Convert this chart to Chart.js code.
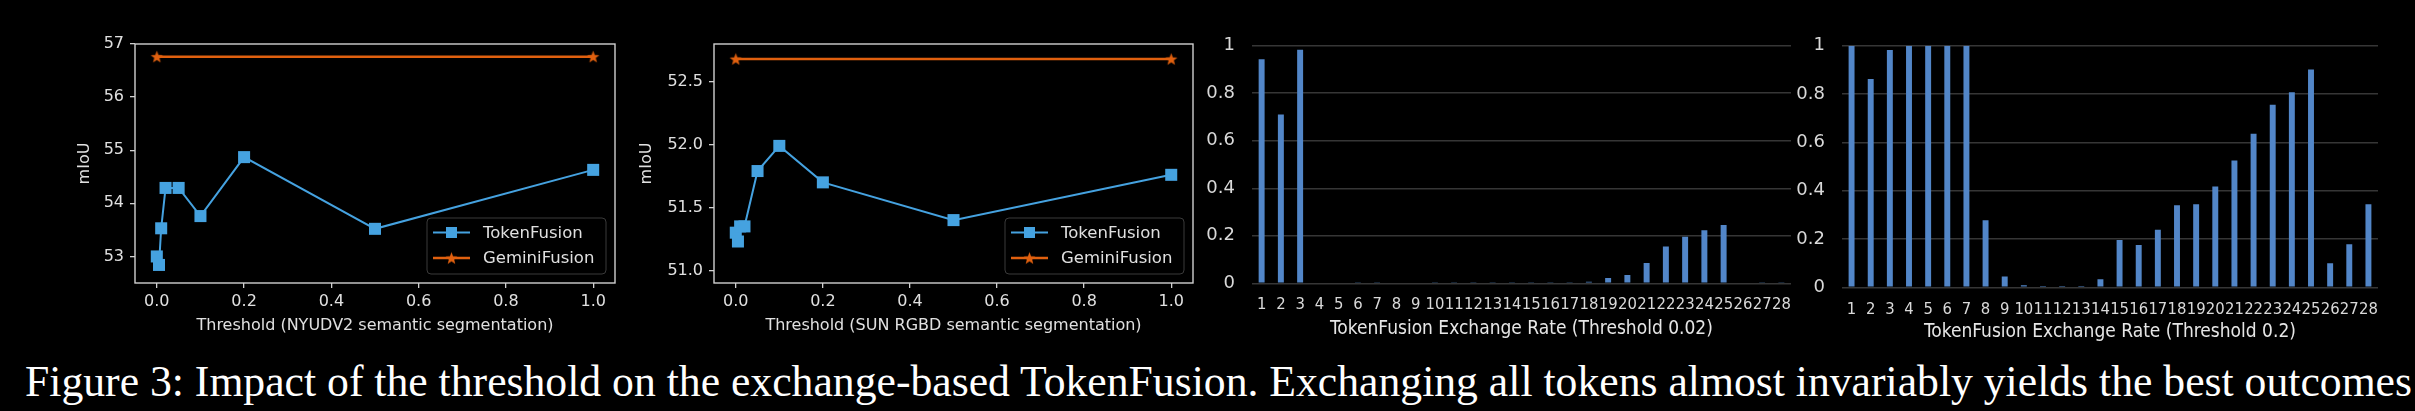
<!DOCTYPE html>
<html>
<head>
<meta charset="utf-8">
<script src="https://cdn.jsdelivr.net/npm/chart.js@4.4.1/dist/chart.umd.min.js"></script>
<style>
  html, body { margin: 0; padding: 0; background: #000; }
  body { width: 2415px; height: 411px; position: relative; overflow: hidden; }
  canvas { position: absolute; top: 0; }
  #caption {
    position: absolute; left: 25px; top: 359px;
    font-family: 'Liberation Serif', 'Times New Roman', serif;
    font-size: 45px; line-height: 45px; color: #fff;
    white-space: nowrap; transform-origin: 0 0;
  }
</style>
</head>
<body>
<canvas id="nyu" style="left:60px" width="570" height="345"></canvas>
<canvas id="sun" style="left:630px" width="575" height="345"></canvas>
<canvas id="rate02" style="left:1195px" width="610" height="345"></canvas>
<canvas id="rate2" style="left:1780px" width="635" height="345"></canvas>
<div id="caption">Figure 3: Impact of the threshold on the exchange-based TokenFusion. Exchanging all tokens almost invariably yields the best outcomes</div>

<script>
// threshold sweeps
const thresholds = [0, 0.005, 0.01, 0.02, 0.05, 0.1, 0.2, 0.5, 1.0];
const geminiX = [0, 1.0];
const nyuTokenFusion = [53.0, 52.84, 53.53, 54.29, 54.29, 53.76, 54.87, 53.52, 54.63];
const nyuGeminiFusion = [56.76, 56.76];
const sunTokenFusion = [51.30, 51.23, 51.35, 51.35, 51.79, 51.99, 51.70, 51.40, 51.76];
const sunGeminiFusion = [52.68, 52.68];
const xTicks = [0, 0.2, 0.4, 0.6, 0.8, 1.0];
const nyuYTicks = [53, 54, 55, 56, 57];
const sunYTicks = [51.0, 51.5, 52.0, 52.5];

// exchange rate per layer
const layers = ['1','2','3','4','5','6','7','8','9','10','11','12','13','14','15','16','17','18','19','20','21','22','23','24','25','26','27','28'];
const rate002 = [0.943, 0.710, 0.983, 0, 0, 0.002, 0.002, 0, 0, 0.002, 0.002, 0.002, 0.002, 0.002, 0.002, 0.002, 0.002,
                 0.007, 0.022, 0.035, 0.085, 0.155, 0.196, 0.223, 0.245, 0, 0.002, 0.002];
const rate02 = [1.0, 0.862, 0.982, 1.0, 1.0, 1.0, 1.0, 0.278, 0.045, 0.008, 0.001, 0.001, 0.005, 0.033,
                0.196, 0.175, 0.238, 0.340, 0.344, 0.417, 0.525, 0.636, 0.756, 0.807, 0.901, 0.100, 0.178, 0.344];
const rateTicks = [0, 0.2, 0.4, 0.6, 0.8, 1];
const rateTickLabels = ['0', '0.2', '0.4', '0.6', '0.8', '1'];

const BLUE = '#45a2e0', ORANGE = '#e0600f', TXT = '#e0e0e0', SPINE = '#d0d0d0';
const mplFont = { family: "'DejaVu Sans'", size: 16 };
const barFont = "'DejaVu Sans Condensed', 'DejaVu Sans'";

function makeStar(r, color) {
  const c = document.createElement('canvas');
  c.width = c.height = Math.ceil(r * 2 + 2);
  const g = c.getContext('2d');
  const m = c.width / 2;
  g.beginPath();
  for (let i = 0; i < 10; i++) {
    const a = -Math.PI / 2 + i * Math.PI / 5;
    const rr = i % 2 ? r * 0.42 : r;
    g.lineTo(m + rr * Math.cos(a), m + 0.5 + rr * Math.sin(a));
  }
  g.closePath();
  g.fillStyle = color;
  g.fill();
  return c;
}
const star = makeStar(6.5, ORANGE);

// axes frame + legend box like matplotlib
const mplFrame = {
  id: 'mplFrame',
  afterDraw(chart) {
    const ctx = chart.ctx, a = chart.chartArea;
    ctx.save();
    ctx.strokeStyle = SPINE;
    ctx.lineWidth = 1.4;
    ctx.strokeRect(a.left, a.top, a.right - a.left, a.bottom - a.top);

    const w = 179, h = 56;
    const x = a.right - 9 - w, y = a.bottom - 9 - h;
    ctx.beginPath();
    ctx.roundRect(x, y, w, h, 4);
    ctx.fillStyle = '#000';
    ctx.fill();
    ctx.strokeStyle = '#3a3a3a';
    ctx.lineWidth = 1;
    ctx.stroke();

    chart.data.datasets.forEach((ds, i) => {
      const cy = y + 14.5 + i * 25.6;
      ctx.strokeStyle = ds.borderColor;
      ctx.lineWidth = ds.borderWidth;
      ctx.beginPath();
      ctx.moveTo(x + 6, cy);
      ctx.lineTo(x + 43, cy);
      ctx.stroke();
      if (ds.pointStyle === 'rect') {
        ctx.fillStyle = ds.backgroundColor;
        ctx.fillRect(x + 24.5 - 5.5, cy - 5.5, 11, 11);
      } else {
        ctx.drawImage(ds.pointStyle, x + 24.5 - ds.pointStyle.width / 2, cy - ds.pointStyle.height / 2);
      }
      ctx.fillStyle = TXT;
      ctx.font = "16.5px 'DejaVu Sans'";
      ctx.textBaseline = 'middle';
      ctx.fillText(ds.label, x + 56, cy + 1);
    });
    ctx.restore();
  }
};

function thresholdChart(id, tokenVals, geminiVals, yMin, yMax, yTicks, yDec, yAxisW, titleTop, xTitle, padRight) {
  new Chart(document.getElementById(id), {
    type: 'line',
    data: {
      datasets: [
        {
          label: 'TokenFusion',
          data: thresholds.map((t, i) => ({ x: t, y: tokenVals[i] })),
          borderColor: BLUE, backgroundColor: BLUE, borderWidth: 2,
          pointStyle: 'rect', pointRadius: 8.5, pointBorderWidth: 0
        },
        {
          label: 'GeminiFusion',
          data: geminiX.map((t, i) => ({ x: t, y: geminiVals[i] })),
          borderColor: ORANGE, backgroundColor: ORANGE, borderWidth: 2.5,
          pointStyle: star, pointRadius: 6
        }
      ]
    },
    options: {
      responsive: false,
      animation: false,
      layout: { padding: { top: 44, right: padRight, left: 0, bottom: 0 } },
      plugins: { legend: { display: false }, tooltip: { enabled: false } },
      scales: {
        x: {
          type: 'linear', min: -0.05, max: 1.05,
          afterBuildTicks: s => { s.ticks = xTicks.map(v => ({ value: v })); },
          afterFit: s => { s.height = 62; },
          ticks: { color: TXT, font: mplFont, padding: 4, maxRotation: 0, callback: v => v.toFixed(1) },
          grid: { drawOnChartArea: false, drawTicks: true, tickLength: 5, color: SPINE, lineWidth: 1.3 },
          border: { display: false },
          title: { display: true, text: xTitle, color: TXT, font: mplFont, padding: { top: 0, bottom: 10 } }
        },
        y: {
          type: 'linear', min: yMin, max: yMax,
          afterBuildTicks: s => { s.ticks = yTicks.map(v => ({ value: v })); },
          afterFit: s => { s.width = yAxisW; },
          ticks: { color: TXT, font: mplFont, padding: 6, callback: v => v.toFixed(yDec) },
          grid: { drawOnChartArea: false, drawTicks: true, tickLength: 5, color: SPINE, lineWidth: 1.3 },
          border: { display: false },
          title: { display: true, text: 'mIoU', color: TXT, font: mplFont, padding: { top: titleTop, bottom: 0 } }
        }
      }
    },
    plugins: [mplFrame]
  });
}

thresholdChart('nyu', nyuTokenFusion, nyuGeminiFusion, 52.5, 57.0, nyuYTicks, 0, 75, 15.4,
  'Threshold (NYUDV2 semantic segmentation)', 15);
thresholdChart('sun', sunTokenFusion, sunGeminiFusion, 50.90, 52.80, sunYTicks, 1, 84, 7.4,
  'Threshold (SUN RGBD semantic segmentation)', 12);

function rateChart(id, values, yAxisW, padTop, padRight, xAxisH, xTickPad, titleBottom, xTitle) {
  new Chart(document.getElementById(id), {
    type: 'bar',
    data: {
      labels: layers,
      datasets: [{
        label: 'Exchange rate',
        data: values,
        backgroundColor: '#5286c8',
        borderWidth: 0,
        barPercentage: 0.31,
        categoryPercentage: 1.0
      }]
    },
    options: {
      responsive: false,
      animation: false,
      layout: { padding: { top: padTop, right: padRight, left: 0, bottom: 0 } },
      plugins: { legend: { display: false }, tooltip: { enabled: false } },
      scales: {
        x: {
          afterFit: s => { s.height = xAxisH; },
          grid: { display: false },
          border: { display: false },
          ticks: {
            color: '#d9d9d9', autoSkip: false, maxRotation: 0, minRotation: 0, padding: xTickPad,
            font: { family: barFont, size: 16.5 }
          },
          title: {
            display: true, text: xTitle, color: '#e6e6e6',
            font: { family: barFont, size: 19 },
            padding: { top: 0, bottom: titleBottom }
          }
        },
        y: {
          min: 0, max: 1,
          afterBuildTicks: s => { s.ticks = rateTicks.map(v => ({ value: v })); },
          afterFit: s => { s.width = yAxisW; },
          grid: { color: '#363636', lineWidth: 1.5, drawTicks: false },
          border: { display: false },
          ticks: {
            color: '#d9d9d9', padding: 17,
            font: { family: "'DejaVu Sans'", size: 18 },
            callback: (v, i) => rateTickLabels[i]
          }
        }
      }
    }
  });
}

rateChart('rate02', rate002, 57, 45.7, 14, 61.7, 4, 4.6, 'TokenFusion Exchange Rate (Threshold 0.02)');
rateChart('rate2', rate02, 62, 45.7, 37, 57.7, 5, 1.6, 'TokenFusion Exchange Rate (Threshold 0.2)');

const cap = document.getElementById('caption');
const capW = cap.getBoundingClientRect().width;
cap.style.transform = 'scaleX(' + (2387 / capW) + ')';
</script>
</body>
</html>
